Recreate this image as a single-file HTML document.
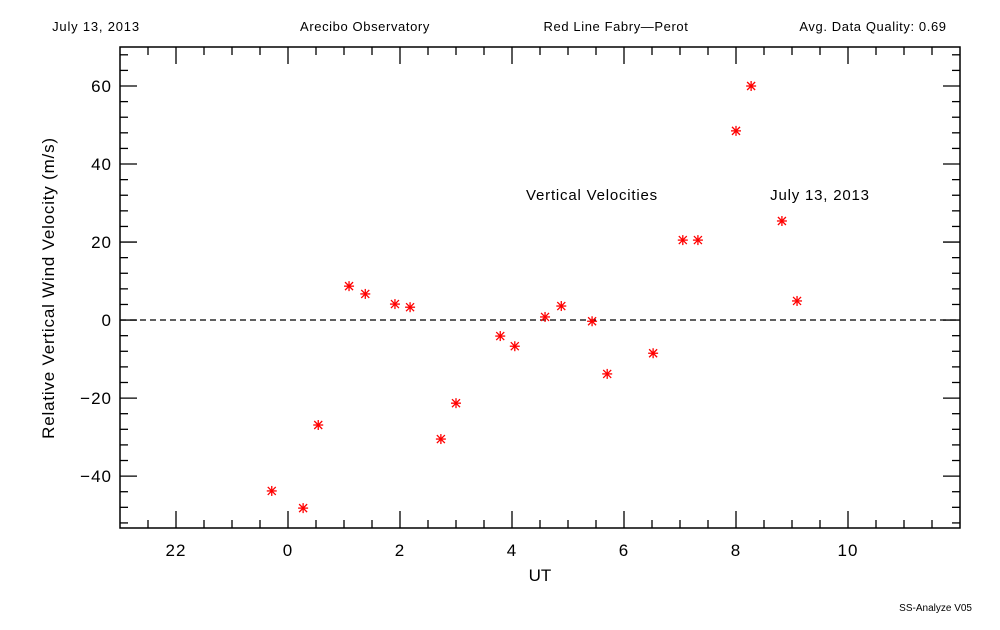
<!DOCTYPE html>
<html><head><meta charset="utf-8"><style>
body{margin:0;background:#fff}
svg text{font-family:"Liberation Sans",sans-serif;fill:#000}
</style></head><body>
<svg id="c" width="1000" height="625" xmlns="http://www.w3.org/2000/svg">
<rect width="1000" height="625" fill="#fff"/>
<text x="96" y="31" font-size="13" letter-spacing="0.8" text-anchor="middle">July 13, 2013</text>
<text x="365" y="31" font-size="13" letter-spacing="0.6" text-anchor="middle">Arecibo Observatory</text>
<text x="616" y="31" font-size="13" letter-spacing="0.6" text-anchor="middle">Red Line Fabry—Perot</text>
<text x="873" y="31" font-size="13" letter-spacing="0.6" text-anchor="middle">Avg. Data Quality: 0.69</text>
<rect x="120" y="47" width="840" height="481" fill="none" stroke="#000" stroke-width="1.5"/>
<g id="ticks"></g>
<line x1="120" x2="960" y1="320" y2="320" stroke="#000" stroke-width="1.2" stroke-dasharray="6,4"/>
<g id="pts"></g>
<text x="592" y="200" font-size="15" letter-spacing="0.8" text-anchor="middle">Vertical Velocities</text>
<text x="820" y="200" font-size="15" letter-spacing="0.8" text-anchor="middle">July 13, 2013</text>
<text x="540" y="581" font-size="17" text-anchor="middle">UT</text>
<text transform="translate(54,288) rotate(-90)" font-size="17" letter-spacing="0.8" text-anchor="middle">Relative Vertical Wind Velocity (m/s)</text>
<text x="972" y="611" font-size="10" text-anchor="end">SS-Analyze V05</text>
</svg>
<script>
const hours=[-0.29,0.27,0.54,1.09,1.38,1.91,2.18,2.73,3.0,3.79,4.05,4.59,4.88,5.43,5.70,6.52,7.05,7.32,8.0,8.27,8.82,9.09];
const velocities=[-43.8,-48.2,-26.9,8.7,6.7,4.1,3.3,-30.5,-21.3,-4.1,-6.7,0.8,3.6,-0.3,-13.8,-8.5,20.5,20.5,48.5,60,25.4,4.9];
const xTickValues=[-2,0,2,4,6,8,10];
const xTickLabels=["22","0","2","4","6","8","10"];
const yTickValues=[-40,-20,0,20,40,60];
const yTickLabels=["−40","−20","0","20","40","60"];
const X0=120,X1=960,Y0=47,Y1=528,XMIN=-3,XMAX=12,YMIN=-53.3,YMAX=70;
const sx=v=>X0+(v-XMIN)/(XMAX-XMIN)*(X1-X0);
const sy=v=>Y1-(v-YMIN)/(YMAX-YMIN)*(Y1-Y0);
const NS="http://www.w3.org/2000/svg";
const tg=document.getElementById('ticks'),pg=document.getElementById('pts');
function ln(g,x1,y1,x2,y2){const l=document.createElementNS(NS,'line');l.setAttribute('x1',x1);l.setAttribute('y1',y1);l.setAttribute('x2',x2);l.setAttribute('y2',y2);l.setAttribute('stroke','#000');l.setAttribute('stroke-width','1.3');g.appendChild(l);return l;}
for(let h=-2.5;h<12;h+=0.5){const x=sx(h);const major=Math.abs(h%2)<1e-9;const L=major?17:8;
const a=ln(tg,x,Y1,x,Y1-L);
const b=ln(tg,x,Y0,x,Y0+L);}
for(let v=-52;v<70;v+=4){const y=sy(v);const major=Math.abs(v%20)<1e-9;const L=major?17:8;
const a=ln(tg,X0,y,X0+L,y);
const b=ln(tg,X1,y,X1-L,y);}
xTickValues.forEach((v,i)=>{const t=document.createElementNS(NS,'text');t.setAttribute('x',sx(v));t.setAttribute('y',556);t.setAttribute('font-size','17');t.setAttribute('letter-spacing','1');t.setAttribute('text-anchor','middle');t.textContent=xTickLabels[i];

tg.appendChild(t);});
yTickValues.forEach((v,i)=>{const t=document.createElementNS(NS,'text');t.setAttribute('x',112);t.setAttribute('y',sy(v)+6);t.setAttribute('font-size','17');t.setAttribute('letter-spacing','1');t.setAttribute('text-anchor','end');t.textContent=yTickLabels[i];

tg.appendChild(t);});
hours.forEach((h,i)=>{const x=sx(h),y=sy(velocities[i]);const g=document.createElementNS(NS,'g');


[[-5,0,5,0],[0,-5,0,5],[-4,-4,4,4],[-4,4,4,-4]].forEach(d=>{const l=ln(g,x+d[0],y+d[1],x+d[2],y+d[3]);l.setAttribute('stroke','#f00');});
pg.appendChild(g);});
</script>
</body></html>
